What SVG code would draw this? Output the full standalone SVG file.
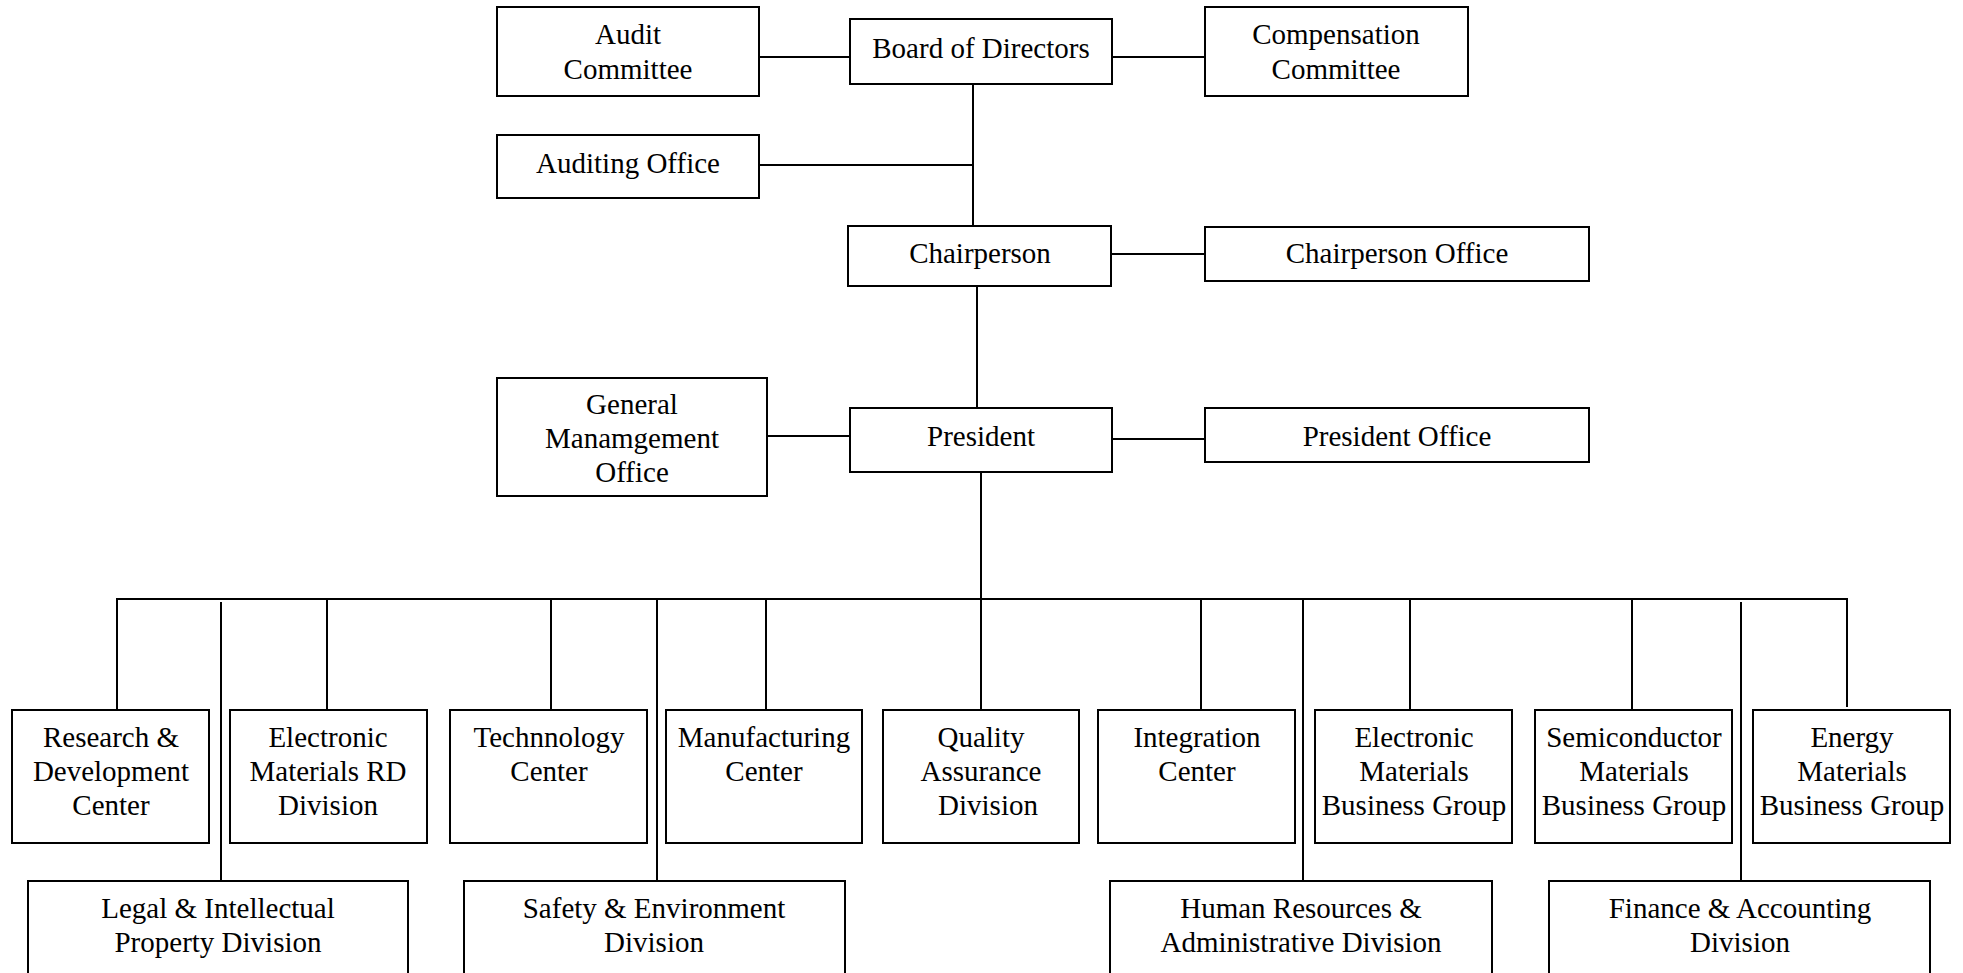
<svg xmlns="http://www.w3.org/2000/svg" width="1963" height="973" viewBox="0 0 1963 973">
<style>
.box{fill:#fff;stroke:#000;stroke-width:2}
.ln{stroke:#000;stroke-width:2;fill:none}
text{font-family:"Liberation Serif","Times New Roman",serif;font-size:29px;fill:#000;text-anchor:middle}
</style>
<rect width="1963" height="973" fill="#fff"/>
<g id="connectors">
<line class="ln" x1="759" y1="57" x2="850" y2="57"/>
<line class="ln" x1="1112" y1="57" x2="1205" y2="57"/>
<line class="ln" x1="973" y1="84" x2="973" y2="226"/>
<line class="ln" x1="759" y1="165" x2="973" y2="165"/>
<line class="ln" x1="1111" y1="254" x2="1205" y2="254"/>
<line class="ln" x1="977" y1="286" x2="977" y2="408"/>
<line class="ln" x1="767" y1="436" x2="850" y2="436"/>
<line class="ln" x1="1112" y1="439" x2="1205" y2="439"/>
<line class="ln" x1="981" y1="473" x2="981" y2="710"/>
<line class="ln" x1="116" y1="599" x2="1848" y2="599"/>
<line class="ln" x1="117" y1="599" x2="117" y2="710"/>
<line class="ln" x1="327" y1="599" x2="327" y2="710"/>
<line class="ln" x1="551" y1="599" x2="551" y2="710"/>
<line class="ln" x1="766" y1="599" x2="766" y2="710"/>
<line class="ln" x1="1201" y1="599" x2="1201" y2="710"/>
<line class="ln" x1="1410" y1="599" x2="1410" y2="710"/>
<line class="ln" x1="1632" y1="599" x2="1632" y2="710"/>
<line class="ln" x1="1847" y1="599" x2="1847" y2="707"/>
<line class="ln" x1="221" y1="602" x2="221" y2="881"/>
<line class="ln" x1="657" y1="599" x2="657" y2="881"/>
<line class="ln" x1="1303" y1="599" x2="1303" y2="881"/>
<line class="ln" x1="1741" y1="602" x2="1741" y2="881"/>
</g>
<g id="audit-committee"><rect class="box" x="497" y="7" width="262" height="89"/><text x="628" y="44">Audit</text><text x="628" y="79">Committee</text></g>
<g id="board"><rect class="box" x="850" y="19" width="262" height="65"/><text x="981" y="58">Board of Directors</text></g>
<g id="compensation-committee"><rect class="box" x="1205" y="7" width="263" height="89"/><text x="1336" y="44">Compensation</text><text x="1336" y="79">Committee</text></g>
<g id="auditing-office"><rect class="box" x="497" y="135" width="262" height="63"/><text x="628" y="173">Auditing Office</text></g>
<g id="chairperson"><rect class="box" x="848" y="226" width="263" height="60"/><text x="980" y="263">Chairperson</text></g>
<g id="chairperson-office"><rect class="box" x="1205" y="227" width="384" height="54"/><text x="1397" y="263">Chairperson Office</text></g>
<g id="general-management-office"><rect class="box" x="497" y="378" width="270" height="118"/><text x="632" y="414">General</text><text x="632" y="448">Manamgement</text><text x="632" y="482">Office</text></g>
<g id="president"><rect class="box" x="850" y="408" width="262" height="64"/><text x="981" y="446">President</text></g>
<g id="president-office"><rect class="box" x="1205" y="408" width="384" height="54"/><text x="1397" y="446">President Office</text></g>
<g id="rd-center"><rect class="box" x="12" y="710" width="197" height="133"/><text x="111" y="747">Research &amp;</text><text x="111" y="781">Development</text><text x="111" y="815">Center</text></g>
<g id="em-rd-division"><rect class="box" x="230" y="710" width="197" height="133"/><text x="328" y="747">Electronic</text><text x="328" y="781">Materials RD</text><text x="328" y="815">Division</text></g>
<g id="technology-center"><rect class="box" x="450" y="710" width="197" height="133"/><text x="549" y="747">Technnology</text><text x="549" y="781">Center</text></g>
<g id="manufacturing-center"><rect class="box" x="666" y="710" width="196" height="133"/><text x="764" y="747">Manufacturing</text><text x="764" y="781">Center</text></g>
<g id="quality-assurance"><rect class="box" x="883" y="710" width="196" height="133"/><text x="981" y="747">Quality</text><text x="981" y="781">Assurance</text><text x="988" y="815">Division</text></g>
<g id="integration-center"><rect class="box" x="1098" y="710" width="197" height="133"/><text x="1197" y="747">Integration</text><text x="1197" y="781">Center</text></g>
<g id="em-business-group"><rect class="box" x="1315" y="710" width="197" height="133"/><text x="1414" y="747">Electronic</text><text x="1414" y="781">Materials</text><text x="1414" y="815">Business Group</text></g>
<g id="semi-business-group"><rect class="box" x="1535" y="710" width="197" height="133"/><text x="1634" y="747">Semiconductor</text><text x="1634" y="781">Materials</text><text x="1634" y="815">Business Group</text></g>
<g id="energy-business-group"><rect class="box" x="1753" y="710" width="197" height="133"/><text x="1852" y="747">Energy</text><text x="1852" y="781">Materials</text><text x="1852" y="815">Business Group</text></g>
<g id="legal-ip-division"><rect class="box" x="28" y="881" width="380" height="120"/><text x="218" y="918">Legal &amp; Intellectual</text><text x="218" y="952">Property Division</text></g>
<g id="safety-env-division"><rect class="box" x="464" y="881" width="381" height="120"/><text x="654" y="918">Safety &amp; Environment</text><text x="654" y="952">Division</text></g>
<g id="hr-admin-division"><rect class="box" x="1110" y="881" width="382" height="120"/><text x="1301" y="918">Human Resources &amp;</text><text x="1301" y="952">Administrative Division</text></g>
<g id="finance-accounting-division"><rect class="box" x="1549" y="881" width="381" height="120"/><text x="1740" y="918">Finance &amp; Accounting</text><text x="1740" y="952">Division</text></g>
</svg>
